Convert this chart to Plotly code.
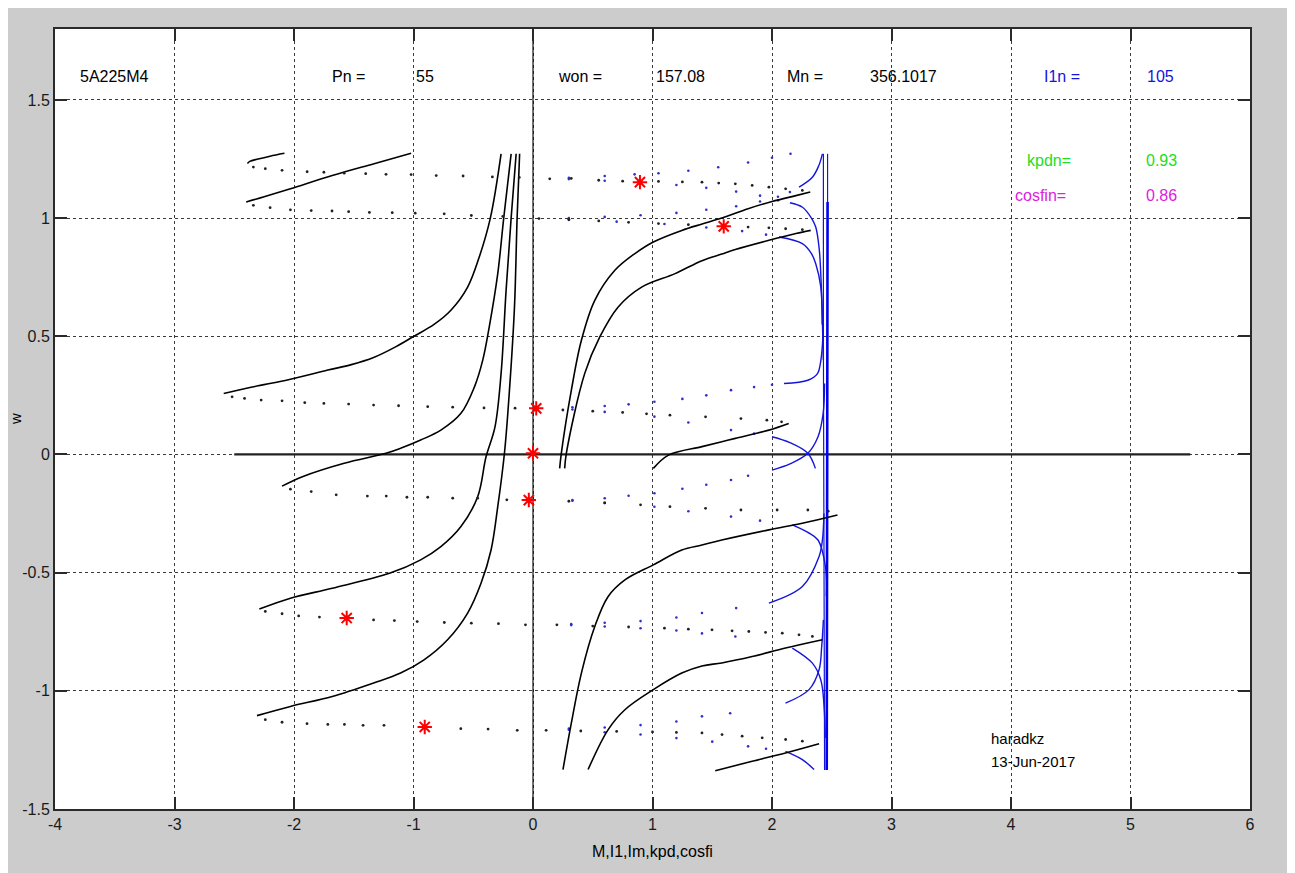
import plotly.graph_objects as go

# ---------------- axis ticks ----------------
x_ticks = [-4, -3, -2, -1, 0, 1, 2, 3, 4, 5, 6]
x_tick_labels = ["-4", "-3", "-2", "-1", "0", "1", "2", "3", "4", "5", "6"]
y_ticks = [-1.5, -1, -0.5, 0, 0.5, 1, 1.5]
y_tick_labels = ["-1.5", "-1", "-0.5", "0", "0.5", "1", "1.5"]

# ---------------- torque M(w): generator branches (dense) ----------------
gen_117_M = [-2.08, -2.2, -2.3, -2.37, -2.39]
gen_117_w = [1.274, 1.262, 1.25, 1.24, 1.231]
gen_1008_M = [-1.02, -1.33, -1.68, -2.03, -2.25, -2.40]
gen_1008_w = [1.274, 1.23, 1.18, 1.124, 1.09, 1.068]
gen_019_M = [-0.267, -0.357, -0.45, -0.547, -0.687, -0.828, -0.996, -1.15, -1.334, -1.52, -1.717, -2.03, -2.35, -2.588]
gen_019_w = [1.272, 1.0, 0.835, 0.708, 0.61, 0.55, 0.5, 0.455, 0.41, 0.38, 0.357, 0.318, 0.285, 0.258]
gen_m019_M = [-0.183, -0.245, -0.295, -0.366, -0.42, -0.49, -0.603, -0.771, -0.94, -1.108, -1.23, -1.58, -1.93, -2.10]
gen_m019_w = [1.272, 1.0, 0.765, 0.54, 0.4, 0.286, 0.174, 0.103, 0.061, 0.026, 0.005, -0.037, -0.094, -0.134]
gen_m072_M = [-0.141, -0.183, -0.225, -0.267, -0.318, -0.393, -0.463, -0.603, -0.771, -0.94, -1.195, -1.68, -2.03, -2.29]
gen_m072_w = [1.272, 1.0, 0.695, 0.343, 0.117, -0.01, -0.179, -0.305, -0.39, -0.446, -0.502, -0.566, -0.608, -0.654]
gen_m117_M = [-0.112, -0.133, -0.155, -0.197, -0.239, -0.295, -0.351, -0.435, -0.547, -0.715, -0.912, -1.108, -1.334, -1.68, -2.03, -2.31]
gen_m117_w = [1.272, 1.0, 0.624, 0.272, 0.005, -0.221, -0.404, -0.545, -0.671, -0.784, -0.869, -0.925, -0.967, -1.024, -1.066, -1.105]

# ---------------- torque M(w): motor branches (dense) ----------------
mot_117_M = [0.223, 0.237, 0.321, 0.405, 0.517, 0.685, 0.853, 1.007, 1.245, 1.415, 1.58, 1.8, 2.0, 2.2, 2.32]
mot_117_w = [-0.059, 0.005, 0.272, 0.483, 0.652, 0.779, 0.85, 0.899, 0.948, 0.975, 1.0, 1.04, 1.07, 1.095, 1.11]
mot_1008_M = [0.265, 0.279, 0.433, 0.559, 0.713, 0.909, 1.189, 1.414, 1.58, 1.693, 1.974, 2.2, 2.324]
mot_1008_w = [-0.059, 0.005, 0.343, 0.497, 0.624, 0.708, 0.765, 0.82, 0.848, 0.867, 0.906, 0.935, 0.948]
mot_019_M = [1.007, 1.134, 1.414, 1.58, 1.693, 1.974, 2.14]
mot_019_w = [-0.059, -0.003, 0.033, 0.054, 0.068, 0.103, 0.131]
mot_m019_M = [0.251, 0.321, 0.405, 0.517, 0.629, 0.769, 1.007, 1.245, 1.414, 1.58, 1.974, 2.254, 2.548]
mot_m019_w = [-1.333, -1.136, -0.925, -0.728, -0.601, -0.531, -0.467, -0.404, -0.383, -0.362, -0.319, -0.291, -0.256]
mot_m072_M = [0.461, 0.629, 0.769, 1.007, 1.245, 1.414, 1.58, 1.834, 2.113, 2.422]
mot_m072_w = [-1.333, -1.164, -1.08, -0.995, -0.925, -0.895, -0.882, -0.855, -0.819, -0.784]
mot_m117_M = [1.525, 1.834, 2.113, 2.394]
mot_m117_w = [-1.338, -1.298, -1.263, -1.224]

# ---------------- torque M(w): sparse points between the two peaks ----------------
lin_117_M = [-2.34, -2.24, -2.1, -1.89, -1.75, -1.58, -1.40, -1.23, -1.02, -0.81, -0.585, -0.34, -0.115,
             0.14, 0.32, 0.55, 0.75, 1.05, 1.25, 1.414, 1.554, 1.693, 1.834, 1.974, 2.114, 2.254]
lin_117_w = [1.216, 1.209, 1.202, 1.196, 1.194, 1.19, 1.188, 1.185, 1.184, 1.18, 1.178, 1.174, 1.172,
             1.166, 1.168, 1.16, 1.156, 1.155, 1.153, 1.152, 1.148, 1.145, 1.138, 1.131, 1.124, 1.117]
lin_1008_M = [-2.34, -2.2, -2.03, -1.856, -1.682, -1.543, -1.369, -1.178, -0.986, -0.743, -0.516, -0.253,
              0.05, 0.3, 0.55, 0.8, 1.05, 1.3, 1.8, 1.974, 2.114, 2.254]
lin_1008_w = [1.054, 1.044, 1.035, 1.032, 1.03, 1.027, 1.024, 1.023, 1.021, 1.018, 1.011, 1.007,
              0.998, 0.993, 0.988, 0.982, 0.977, 0.972, 0.962, 0.959, 0.955, 0.951]
lin_019_M = [-2.518, -2.414, -2.275, -2.1, -1.91, -1.75, -1.543, -1.334, -1.125, -0.881, -0.672, -0.41, -0.15,
             0.25, 0.5, 0.75, 0.95, 1.146, 1.444, 1.74, 1.957, 2.08]
lin_019_w = [0.244, 0.237, 0.23, 0.227, 0.219, 0.216, 0.213, 0.209, 0.206, 0.202, 0.2, 0.197, 0.196,
             0.188, 0.183, 0.178, 0.172, 0.166, 0.159, 0.152, 0.145, 0.138]
lin_m019_M = [-2.03, -1.856, -1.647, -1.386, -1.228, -1.055, -0.881, -0.672, -0.463, -0.219,
              0.3, 0.6, 0.9, 1.146, 1.444, 1.74, 2.043, 2.3, 2.47]
lin_m019_w = [-0.147, -0.157, -0.171, -0.176, -0.176, -0.181, -0.181, -0.185, -0.185, -0.192,
              -0.198, -0.205, -0.213, -0.221, -0.228, -0.235, -0.235, -0.235, -0.24]
lin_m072_M = [-2.24, -2.1, -1.961, -1.787, -1.334, -1.16, -0.969, -0.742, -0.516, -0.289, -0.063,
              0.2, 0.5, 0.8, 1.1, 1.3, 1.498, 1.666, 1.806, 1.946, 2.086, 2.226, 2.338]
lin_m072_w = [-0.664, -0.674, -0.683, -0.688, -0.7, -0.703, -0.707, -0.711, -0.714, -0.716, -0.721,
              -0.721, -0.726, -0.73, -0.735, -0.739, -0.742, -0.746, -0.749, -0.753, -0.756, -0.763, -0.77]
lin_m117_M = [-2.24, -2.1, -1.891, -1.717, -1.578, -1.422, -1.247, -0.604, -0.376, -0.132,
              0.11, 0.4, 0.7, 1.0, 1.2, 1.414, 1.582, 1.75, 1.918, 2.114, 2.254]
lin_m117_w = [-1.122, -1.133, -1.139, -1.142, -1.142, -1.146, -1.146, -1.16, -1.162, -1.167,
              -1.167, -1.17, -1.172, -1.174, -1.176, -1.178, -1.185, -1.192, -1.199, -1.206, -1.213]

# ---------------- stator current I1(w): sparse points ----------------
i1s_117_up_I = [0.3, 0.6, 0.85, 1.05, 1.3, 1.55, 1.8, 2.0, 2.155]
i1s_117_up_w = [1.17, 1.178, 1.185, 1.19, 1.2, 1.215, 1.235, 1.255, 1.272]
i1s_117_dn_I = [0.3, 0.6, 0.9, 1.2, 1.45, 1.7, 1.9, 2.05]
i1s_117_dn_w = [1.165, 1.158, 1.15, 1.14, 1.128, 1.112, 1.095, 1.075]
i1s_1008_up_I = [0.3, 0.6, 0.9, 1.2, 1.45, 1.7, 1.9, 2.05, 2.15]
i1s_1008_up_w = [1.0, 1.005, 1.012, 1.022, 1.035, 1.05, 1.07, 1.09, 1.11]
i1s_1008_dn_I = [0.3, 0.7, 1.1, 1.45, 1.75, 1.95]
i1s_1008_dn_w = [0.995, 0.985, 0.975, 0.96, 0.945, 0.93]
i1s_019_up_I = [0.33, 0.6, 0.8, 1.016, 1.25, 1.45, 1.657, 1.85, 2.0]
i1s_019_up_w = [0.2, 0.205, 0.212, 0.223, 0.235, 0.25, 0.272, 0.285, 0.295]
i1s_019_dn_I = [0.33, 0.6, 1.016, 1.3, 1.657, 1.85]
i1s_019_dn_w = [0.19, 0.18, 0.16, 0.135, 0.103, 0.088]
i1s_m019_up_I = [0.33, 0.6, 0.8, 1.016, 1.25, 1.45, 1.657, 1.8]
i1s_m019_up_w = [-0.193, -0.185, -0.175, -0.164, -0.145, -0.128, -0.108, -0.09]
i1s_m019_dn_I = [0.33, 0.6, 1.016, 1.3, 1.657, 1.9]
i1s_m019_dn_w = [-0.196, -0.205, -0.221, -0.24, -0.263, -0.28]
i1s_m072_up_I = [0.32, 0.6, 0.9, 1.2, 1.414, 1.7]
i1s_m072_up_w = [-0.718, -0.712, -0.705, -0.69, -0.671, -0.65]
i1s_m072_dn_I = [0.32, 0.6, 0.9, 1.2, 1.414, 1.693]
i1s_m072_dn_w = [-0.722, -0.728, -0.735, -0.745, -0.757, -0.77]
i1s_m117_up_I = [0.3, 0.6, 0.9, 1.2, 1.414, 1.65]
i1s_m117_up_w = [-1.16, -1.155, -1.145, -1.13, -1.108, -1.095]
i1s_m117_dn_I = [0.3, 0.6, 0.9, 1.2, 1.5, 1.8, 1.95]
i1s_m117_dn_w = [-1.165, -1.175, -1.185, -1.2, -1.215, -1.235, -1.245]

# ---------------- stator current I1(w): dense parts ----------------
i1d_117_dn_I = [2.15, 2.255, 2.33, 2.366, 2.395, 2.408, 2.42, 2.43]
i1d_117_dn_w = [1.065, 1.046, 1.0, 0.962, 0.87, 0.765, 0.6, 0.4]
i1d_1008_up_I = [2.226, 2.338, 2.39, 2.422]
i1d_1008_up_w = [1.131, 1.173, 1.22, 1.272]
i1d_1008_dn_I = [2.058, 2.254, 2.33, 2.366, 2.408, 2.42]
i1d_1008_dn_w = [0.92, 0.892, 0.85, 0.807, 0.71, 0.55]
i1d_019_up_I = [2.1, 2.3, 2.382, 2.405, 2.42, 2.43]
i1d_019_up_w = [0.3, 0.314, 0.343, 0.386, 0.45, 0.55]
i1d_019_dn_I = [2.0, 2.15, 2.30, 2.363]
i1d_019_dn_w = [0.075, 0.05, 0.005, -0.059]
i1d_m019_up_I = [2.0, 2.15, 2.30, 2.385, 2.428, 2.44]
i1d_m019_up_w = [-0.066, -0.04, 0.005, 0.075, 0.174, 0.3]
i1d_m019_dn_I = [2.17, 2.3, 2.385, 2.447, 2.455]
i1d_m019_dn_w = [-0.298, -0.33, -0.362, -0.474, -0.6]
i1d_m072_up_I = [1.974, 2.254, 2.394, 2.422, 2.435]
i1d_m072_up_w = [-0.629, -0.559, -0.432, -0.362, -0.25]
i1d_m072_dn_I = [2.17, 2.338, 2.408, 2.436, 2.445]
i1d_m072_dn_w = [-0.819, -0.883, -0.953, -1.066, -1.2]
i1d_m117_up_I = [2.113, 2.31, 2.394, 2.416, 2.43]
i1d_m117_up_w = [-1.052, -0.995, -0.911, -0.812, -0.7]
i1d_m117_dn_I = [2.113, 2.254, 2.352]
i1d_m117_dn_w = [-1.256, -1.291, -1.333]

# near-vertical current limits
ilim_thin_upper_I = [2.43, 2.43, 2.44]
ilim_thin_upper_w = [1.272, 0.5, -1.335]
ilim_top_I = [2.465, 2.465]
ilim_top_w = [1.272, 1.068]
ilim_thick_I = [2.465, 2.462, 2.458]
ilim_thick_w = [1.068, 0.0, -1.335]

# ---------------- operating points (red stars) ----------------
op_M = [0.895, 1.596, 0.027, 0.0, -0.035, -1.559, -0.906]
op_w = [1.152, 0.965, 0.195, 0.005, -0.193, -0.692, -1.153]

# ---------------- reference axes lines ----------------
zero_line_M = [-2.5, 5.5]
zero_line_w = [0, 0]

# ---------------- header values ----------------
motor_name = "5A225M4"
Pn_value = "55"
won_value = "157.08"
Mn_value = "356.1017"
I1n_value = "105"
kpdn_value = "0.93"
cosfin_value = "0.86"
author = "haradkz"
date_str = "13-Jun-2017"

FONT = "Liberation Sans, Arial, sans-serif"
BLACK = "#000000"
BLUE = "#1414dc"

fig = go.Figure()


def dense(x, y, color, width=1.6):
    fig.add_trace(go.Scatter(x=x, y=y, mode="lines", line=dict(color=color, width=width, shape="spline"),
                             hoverinfo="skip", showlegend=False))


def sparse(x, y, color, size=3):
    fig.add_trace(go.Scatter(x=x, y=y, mode="markers", marker=dict(color=color, size=size),
                             hoverinfo="skip", showlegend=False))


# reference lines
fig.add_trace(go.Scatter(x=zero_line_M, y=zero_line_w, mode="lines", line=dict(color="#222222", width=2.2),
                         hoverinfo="skip", showlegend=False))
fig.add_trace(go.Scatter(x=[0, 0], y=[-1.5, 1.8], mode="lines", line=dict(color="#111111", width=1.2),
                         hoverinfo="skip", showlegend=False))

# blue current curves
for xs, ys in [(i1s_117_up_I, i1s_117_up_w), (i1s_117_dn_I, i1s_117_dn_w), (i1s_1008_up_I, i1s_1008_up_w),
               (i1s_1008_dn_I, i1s_1008_dn_w), (i1s_019_up_I, i1s_019_up_w), (i1s_019_dn_I, i1s_019_dn_w),
               (i1s_m019_up_I, i1s_m019_up_w), (i1s_m019_dn_I, i1s_m019_dn_w), (i1s_m072_up_I, i1s_m072_up_w),
               (i1s_m072_dn_I, i1s_m072_dn_w), (i1s_m117_up_I, i1s_m117_up_w), (i1s_m117_dn_I, i1s_m117_dn_w)]:
    sparse(xs, ys, "#3030c8", 2.6)
for xs, ys in [(i1d_117_dn_I, i1d_117_dn_w), (i1d_1008_up_I, i1d_1008_up_w), (i1d_1008_dn_I, i1d_1008_dn_w),
               (i1d_019_up_I, i1d_019_up_w), (i1d_019_dn_I, i1d_019_dn_w), (i1d_m019_up_I, i1d_m019_up_w),
               (i1d_m019_dn_I, i1d_m019_dn_w), (i1d_m072_up_I, i1d_m072_up_w), (i1d_m072_dn_I, i1d_m072_dn_w),
               (i1d_m117_up_I, i1d_m117_up_w), (i1d_m117_dn_I, i1d_m117_dn_w)]:
    dense(xs, ys, BLUE, 1.4)
dense(ilim_thin_upper_I, ilim_thin_upper_w, BLUE, 1.2)
dense(ilim_top_I, ilim_top_w, BLUE, 1.2)
dense(ilim_thick_I, ilim_thick_w, "#0000ee", 2.6)

# black torque curves
for xs, ys in [(gen_117_M, gen_117_w), (gen_1008_M, gen_1008_w), (gen_019_M, gen_019_w),
               (gen_m019_M, gen_m019_w), (gen_m072_M, gen_m072_w), (gen_m117_M, gen_m117_w),
               (mot_117_M, mot_117_w), (mot_1008_M, mot_1008_w), (mot_019_M, mot_019_w),
               (mot_m019_M, mot_m019_w), (mot_m072_M, mot_m072_w), (mot_m117_M, mot_m117_w)]:
    dense(xs, ys, BLACK, 1.6)
for xs, ys in [(lin_117_M, lin_117_w), (lin_1008_M, lin_1008_w), (lin_019_M, lin_019_w),
               (lin_m019_M, lin_m019_w), (lin_m072_M, lin_m072_w), (lin_m117_M, lin_m117_w)]:
    sparse(xs, ys, "#202020", 2.8)

# operating points
fig.add_trace(go.Scatter(x=op_M, y=op_w, mode="markers",
                         marker=dict(symbol="asterisk-open", size=12, color="#ff0000",
                                     line=dict(color="#ff0000", width=2)),
                         hoverinfo="skip", showlegend=False))
fig.add_trace(go.Scatter(x=op_M, y=op_w, mode="markers",
                         marker=dict(symbol="circle", size=5, color="#ff0000"),
                         hoverinfo="skip", showlegend=False))

# ---------------- texts ----------------
def txt(x, y, s, color=BLACK, size=16):
    fig.add_annotation(x=x, y=y, xref="x", yref="y", text=s, showarrow=False, xanchor="left",
                       yanchor="middle", font=dict(family=FONT, size=size, color=color))


txt(-3.81, 1.6, motor_name)
txt(-1.70, 1.6, "Pn =")
txt(-1.0, 1.6, Pn_value)
txt(0.19, 1.6, "won =")
txt(1.01, 1.6, won_value)
txt(2.107, 1.6, "Mn =")
txt(2.807, 1.6, Mn_value)
txt(4.26, 1.6, "I1n =", BLUE)
txt(5.12, 1.6, I1n_value, BLUE)
txt(4.12, 1.243, "kpdn=", "#22dd22")
txt(5.11, 1.243, kpdn_value, "#22dd22")
txt(4.015, 1.096, "cosfin=", "#e020e0")
txt(5.11, 1.096, cosfin_value, "#e020e0")
txt(3.82, -1.2, author, BLACK, 15)
txt(3.82, -1.298, date_str, BLACK, 15)

fig.add_annotation(x=0.5, y=-0.055, xref="paper", yref="paper", text="M,I1,Im,kpd,cosfi", showarrow=False,
                   xanchor="center", yanchor="middle", font=dict(family=FONT, size=16, color=BLACK))
fig.add_annotation(x=-0.0335, y=0.5, xref="paper", yref="paper", text="w", showarrow=False, textangle=-90,
                   xanchor="center", yanchor="middle", font=dict(family=FONT, size=15, color=BLACK))

axis_common = dict(showgrid=True, gridcolor="#3a3a3a", griddash="dot", gridwidth=1,
                   zeroline=False, showline=True, linecolor="#2a2a2a", linewidth=2, mirror="ticks",
                   ticks="inside", ticklen=12, tickwidth=2, tickcolor="#2a2a2a",
                   tickfont=dict(family=FONT, size=16, color="#1a1a1a"))

fig.update_xaxes(range=[-4, 6], tickmode="array", tickvals=x_ticks, ticktext=x_tick_labels,
                 ticklabelstandoff=0, **axis_common)
fig.update_yaxes(range=[-1.5, 1.8], tickmode="array", tickvals=y_ticks, ticktext=y_tick_labels,
                 ticklabelstandoff=0, **axis_common)

fig.update_layout(width=1287, height=865, margin=dict(l=47, r=45, t=21, b=64),
                  paper_bgcolor="#cccccc", plot_bgcolor="white", showlegend=False)

fig.write_html("out.html")
